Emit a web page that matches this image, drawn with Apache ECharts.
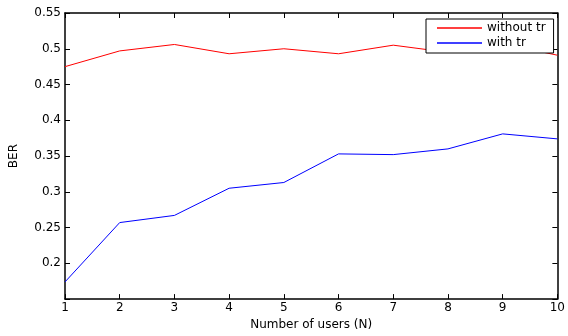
<!DOCTYPE html>
<html>
<head>
<meta charset="utf-8">
<script src="https://cdn.jsdelivr.net/npm/echarts@6/dist/echarts.min.js"></script>
<style>html,body{margin:0;padding:0;background:#fff}#c{width:568px;height:336px}</style>
</head>
<body>
<div id="c"></div>
<script>
const users = [1, 2, 3, 4, 5, 6, 7, 8, 9, 10];
const withoutTr = [0.475, 0.497, 0.506, 0.493, 0.500, 0.493, 0.505, 0.495, 0.507, 0.491];
const withTr = [0.174, 0.257, 0.267, 0.305, 0.313, 0.353, 0.352, 0.360, 0.381, 0.374];
const seriesNames = ['without tr', 'with tr'];
const xLabel = 'Number of users (N)';
const yLabel = 'BER';

const font = 'DejaVu Sans';
const pairs = (ys) => users.map((x, i) => [x, ys[i]]);
const axisCommon = {
  axisLine: { show: true, onZero: false, lineStyle: { color: '#000', width: 1.5 } },
  axisTick: { show: true, inside: true, length: 5, lineStyle: { color: '#000', width: 1 } },
  splitLine: { show: false }
};
const chart = echarts.init(document.getElementById('c'));
chart.setOption({
  animation: false,
  backgroundColor: '#fff',
  grid: { left: 65, right: 8, top: 13, bottom: 34 },
  legend: {
    left: 426, top: 19,
    orient: 'vertical',
    padding: [3, 8, 4, 10],
    itemGap: 3,
    itemWidth: 45, itemHeight: 10,
    backgroundColor: '#fff',
    borderColor: '#000', borderWidth: 1, borderRadius: 0,
    itemStyle: { opacity: 0 },
    lineStyle: { opacity: 0.75 },
    textStyle: { fontFamily: font, fontSize: 12, color: '#000' },
    data: seriesNames
  },
  xAxis: [
    Object.assign({}, axisCommon, {
      type: 'value', min: 1, max: 10, interval: 1, position: 'bottom',
      name: xLabel, nameLocation: 'middle', nameGap: 16,
      nameTextStyle: { fontFamily: font, fontSize: 12, color: '#000' },
      axisLabel: { fontFamily: font, fontSize: 12, color: '#000', margin: 3 }
    }),
    Object.assign({}, axisCommon, {
      type: 'value', min: 1, max: 10, interval: 1, position: 'top',
      axisLabel: { show: false }
    })
  ],
  yAxis: [
    Object.assign({}, axisCommon, {
      type: 'value', min: 0.15, max: 0.55, interval: 0.05, position: 'left',
      name: yLabel, nameLocation: 'middle', nameGap: 45,
      nameTextStyle: { fontFamily: font, fontSize: 12, color: '#000' },
      axisLabel: {
        fontFamily: font, fontSize: 12, color: '#000', margin: 4,
        formatter: (v) => v < 0.16 ? '' : String(Math.round(v * 100) / 100)
      }
    }),
    Object.assign({}, axisCommon, {
      type: 'value', min: 0.15, max: 0.55, interval: 0.05, position: 'right',
      axisLabel: { show: false }
    })
  ],
  series: [
    { name: seriesNames[0], type: 'line', data: pairs(withoutTr), symbol: 'none',
      lineStyle: { color: '#ff0000', width: 1 }, itemStyle: { color: '#ff0000' } },
    { name: seriesNames[1], type: 'line', data: pairs(withTr), symbol: 'none',
      lineStyle: { color: '#0000ff', width: 1 }, itemStyle: { color: '#0000ff' } }
  ]
});
</script>
</body>
</html>
